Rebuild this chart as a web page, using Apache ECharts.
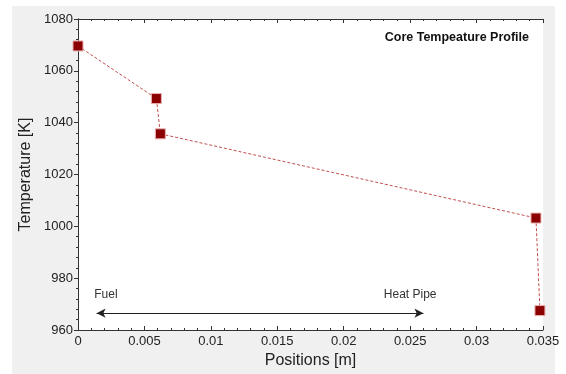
<!DOCTYPE html>
<html>
<head>
<meta charset="utf-8">
<script src="https://cdn.jsdelivr.net/npm/echarts@6/dist/echarts.min.js"></script>
<style>
  html, body { margin: 0; padding: 0; background: #fff; }
  #wrap { position: absolute; left: 12px; top: 6px; width: 543px; height: 368px; background: #f0f0f0; }
  #chart { position: absolute; left: 0; top: 0; width: 566px; height: 374px; }
</style>
</head>
<body>
<div id="wrap"></div>
<div id="chart"></div>
<script>
// core temperature profile points (position in m, temperature in K)
const positions = [0, 0.0059, 0.0062, 0.03447, 0.03477];
const temperatures = [1069.6, 1049.3, 1035.7, 1003.2, 967.5];
const xTicks = [0, 0.005, 0.01, 0.015, 0.02, 0.025, 0.03, 0.035];
const arrowFrom = [0.0014, 966.5];
const arrowTo = [0.026, 966.5];
const regionLabels = ['Fuel', 'Heat Pipe'];

const chart = echarts.init(document.getElementById('chart'));
const font = 'Liberation Sans, Arial, sans-serif';

const frameAxis = {
  axisLine: { show: true, lineStyle: { color: '#333', width: 1 } },
  axisTick: { show: true, inside: true, length: 4, lineStyle: { color: '#333' } },
  minorTick: { show: true, splitNumber: 5, length: 2, lineStyle: { color: '#333' } },
  splitLine: { show: false }
};

const option = {
  animation: false,
  backgroundColor: 'transparent',
  title: {
    text: 'Core Tempeature Profile',
    right: 32, top: 26,
    textStyle: { fontFamily: font, fontSize: 12.5, fontWeight: 'bold', color: '#111' }
  },
  grid: { left: 78, top: 19, right: 23, bottom: 44, show: true, backgroundColor: '#fff', borderWidth: 0 },
  xAxis: [
    Object.assign({}, frameAxis, {
      type: 'value', min: 0, max: 0.035, interval: 0.005,
      name: 'Positions [m]', nameLocation: 'middle', nameGap: 23,
      nameTextStyle: { fontFamily: font, fontSize: 16, color: '#222' },
      axisLabel: { fontFamily: font, fontSize: 13, color: '#222', margin: 5,
        formatter: v => { const t = xTicks.find(k => Math.abs(k - v) < 1e-9); return t === undefined ? '' : String(t); } }
    }),
    Object.assign({}, frameAxis, {
      type: 'value', min: 0, max: 0.035, interval: 0.005, position: 'top',
      axisLabel: { show: false }
    })
  ],
  yAxis: [
    Object.assign({}, frameAxis, {
      type: 'value', min: 960, max: 1080, interval: 20,
      name: 'Temperature [K]', nameLocation: 'middle', nameGap: 44,
      nameTextStyle: { fontFamily: font, fontSize: 16, color: '#222' },
      axisTick: { show: true, inside: false, length: 4, lineStyle: { color: '#333' } },
      axisLabel: { fontFamily: font, fontSize: 13, color: '#222', margin: 5, formatter: v => String(v) }
    }),
    Object.assign({}, frameAxis, {
      type: 'value', min: 960, max: 1080, interval: 20, position: 'right',
      axisLabel: { show: false }
    })
  ],
  series: [
    {
      type: 'line',
      data: positions.map((p, i) => [p, temperatures[i]]),
      symbol: 'rect', symbolSize: 10,
      lineStyle: { color: '#c0504d', width: 1, type: [3, 2] },
      itemStyle: { color: '#8b0000', borderColor: '#e9b0b0', borderWidth: 1 },
      markLine: {
        silent: true,
        symbol: ['arrow', 'arrow'], symbolSize: [7, 9],
        lineStyle: { color: '#222', width: 1, type: 'solid' },
        label: { show: false },
        data: [[{ coord: arrowFrom }, { coord: arrowTo }]]
      },
      markPoint: {
        silent: true,
        symbol: 'circle', symbolSize: 0,
        label: { show: true, fontFamily: font, fontSize: 12, color: '#333', formatter: p => p.name },
        data: [
          { name: regionLabels[0], coord: [0.0021, 973.5] },
          { name: regionLabels[1], coord: [0.025, 973.5] }
        ]
      }
    }
  ]
};
chart.setOption(option);
</script>
</body>
</html>
